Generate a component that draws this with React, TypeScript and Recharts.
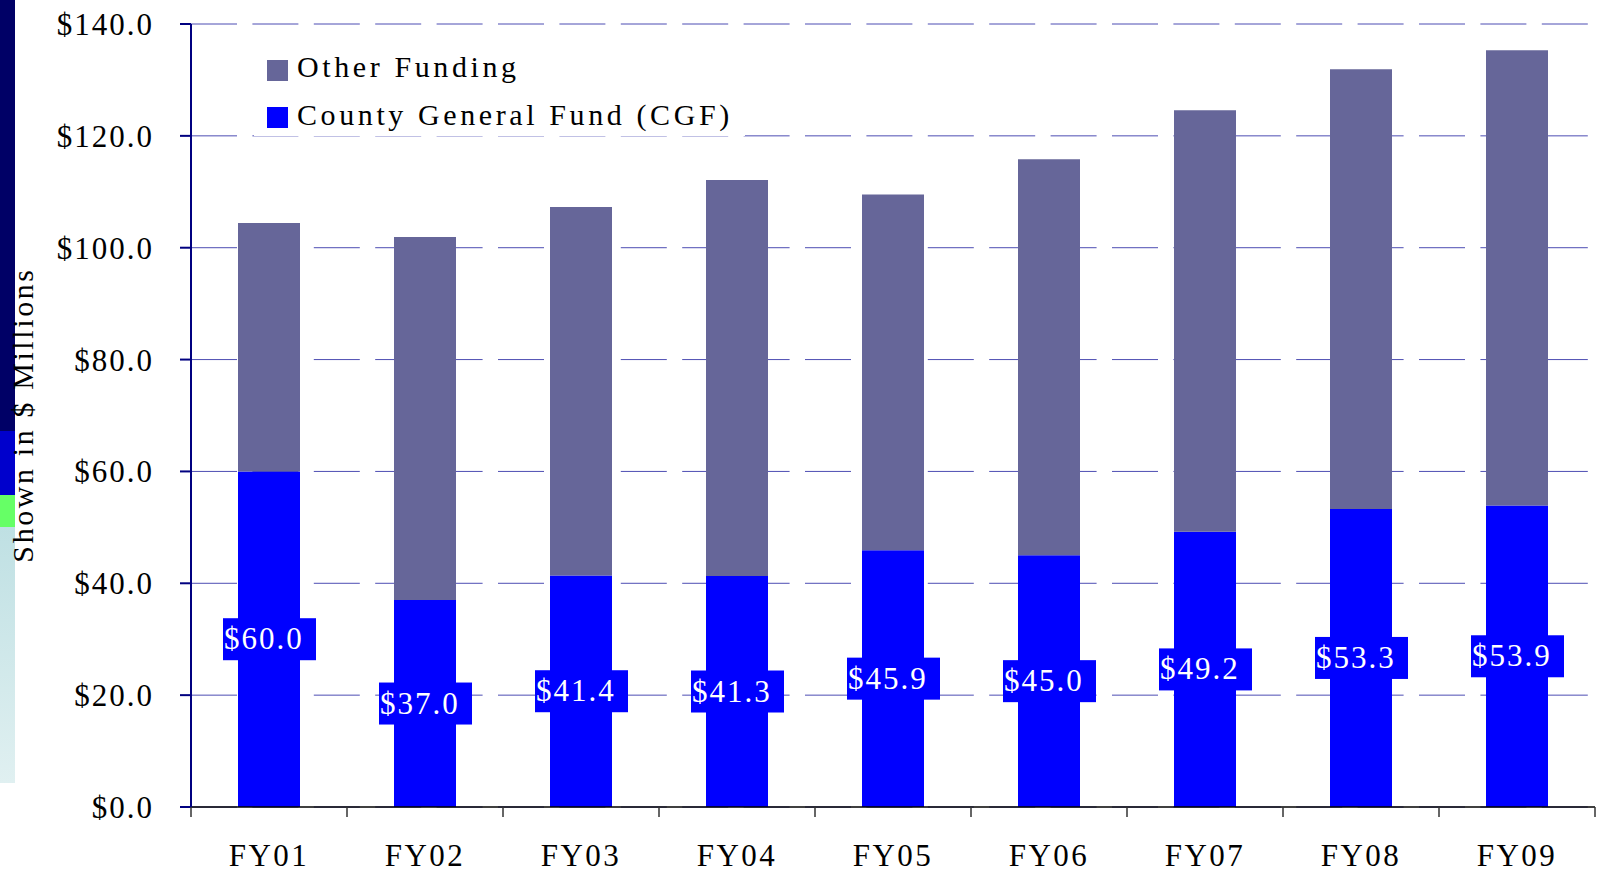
import React from "react";
import {
  BarChart,
  Bar,
  XAxis,
  YAxis,
  CartesianGrid,
  LabelList,
} from "recharts";

const years = ["FY01", "FY02", "FY03", "FY04", "FY05", "FY06", "FY07", "FY08", "FY09"];
const cgf = [60.0, 37.0, 41.4, 41.3, 45.9, 45.0, 49.2, 53.3, 53.9];
const other = [44.4, 64.9, 65.9, 70.8, 63.6, 70.8, 75.4, 78.6, 81.4];
const yTicks = [0, 20, 40, 60, 80, 100, 120, 140];

const data = years.map((name, i) => ({ name, cgf: cgf[i], other: other[i] }));

const W = 1606;
const H = 873;
const margin = { top: 24, right: 11, left: 91, bottom: 10 };
const Y_W = 100;
const PLOT_W = W - margin.left - margin.right - Y_W;
const BAND = PLOT_W / years.length;
const FONT = '"Liberation Serif", "Times New Roman", serif';

const XTick = ({ x, y, payload, index }: any) => {
  const left = x - BAND / 2;
  return (
    <g>
      <line x1={left} y1={y} x2={left} y2={y + 10} stroke="#333" strokeWidth={1.5} />
      {index === years.length - 1 && (
        <line x1={x + BAND / 2} y1={y} x2={x + BAND / 2} y2={y + 10} stroke="#333" strokeWidth={1.5} />
      )}
      <text
        x={x}
        y={y + 59}
        textAnchor="middle"
        fontFamily={FONT}
        fontSize={31}
        letterSpacing={2.5}
        fill="#000"
      >
        {payload.value}
      </text>
    </g>
  );
};

const ValueLabel = ({ x, y, width, height, value }: any) => {
  const cx = x + width / 2;
  const cy = y + height / 2;
  return (
    <g>
      <rect x={cx - 46} y={cy - 21} width={93} height={42} fill="#0000ff" />
      <text
        x={cx - 45}
        y={cy + 10}
        fontFamily={FONT}
        fontSize={31}
        letterSpacing={2}
        fill="#ffffff"
      >
        {"$" + Number(value).toFixed(1)}
      </text>
    </g>
  );
};

// legend drawn on top of the chart, like the slide's white legend box
const LegendBox = () => (
  <svg width={491} height={100} style={{ position: "absolute", left: 254, top: 36, background: "#fff" }}>
    <rect x={13} y={24} width={21} height={21} fill="#666699" />
    <text x={43} y={41} fontFamily={FONT} fontSize={30} letterSpacing={3.6} fill="#000">
      Other Funding
    </text>
    <rect x={13} y={71} width={21} height={21} fill="#0000ff" />
    <text x={43} y={89} fontFamily={FONT} fontSize={30} letterSpacing={3.6} fill="#000">
      County General Fund (CGF)
    </text>
  </svg>
);

export default function App() {
  return (
    <div style={{ position: "absolute", left: 0, top: 0, width: W, height: H, background: "#fff" }}>
      <div style={{ position: "absolute", left: 0, top: 0, width: 15, height: 431, background: "#000066" }} />
      <div style={{ position: "absolute", left: 0, top: 431, width: 15, height: 64, background: "#0000cc" }} />
      <div style={{ position: "absolute", left: 0, top: 495, width: 15, height: 32, background: "#66ff66" }} />
      <div
        style={{
          position: "absolute",
          left: 0,
          top: 527,
          width: 15,
          height: 256,
          background: "linear-gradient(#bfe0e3, #e0f0f1)",
        }}
      />
      <BarChart width={W} height={H} data={data} margin={margin}>
        <CartesianGrid vertical={false} stroke="#4d4db3" strokeDasharray="46 15.4" />
        <XAxis
          dataKey="name"
          height={56}
          tickSize={0}
          tickMargin={0}
          tickLine={false}
          axisLine={{ stroke: "#000", strokeWidth: 1.5 }}
          tick={<XTick />}
          interval={0}
        />
        <YAxis
          width={Y_W}
          domain={[0, 140]}
          ticks={yTicks}
          tickFormatter={(v: number) => "$" + v.toFixed(1)}
          tickSize={11}
          tickMargin={26}
          axisLine={{ stroke: "#000080", strokeWidth: 2 }}
          tickLine={{ stroke: "#000080", strokeWidth: 2 }}
          tick={{ fontFamily: FONT, fontSize: 31, letterSpacing: 2, fill: "#000" }}
          label={{
            content: () => (
              <text
                x={33}
                y={415}
                transform="rotate(-90 33 415)"
                textAnchor="middle"
                fontFamily={FONT}
                fontSize={30}
                letterSpacing={2.6}
                fill="#000"
              >
                Shown in $ Millions
              </text>
            ),
          }}
        />
        <Bar dataKey="cgf" stackId="a" fill="#0000ff" barSize={62} isAnimationActive={false}>
          <LabelList dataKey="cgf" content={<ValueLabel />} />
        </Bar>
        <Bar dataKey="other" stackId="a" fill="#666699" barSize={62} isAnimationActive={false} />
      </BarChart>
      <LegendBox />
    </div>
  );
}
